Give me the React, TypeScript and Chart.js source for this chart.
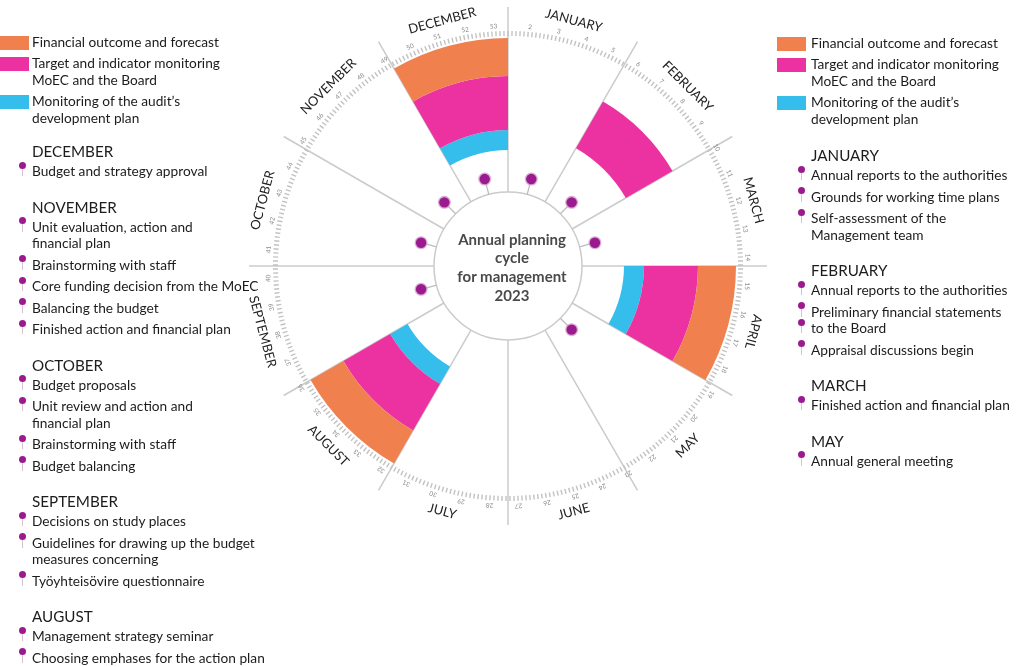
import React, { useEffect, useRef } from 'react';
import { Chart, registerables } from 'chart.js';

Chart.register(...registerables);

// ---------- data ----------
const months = ['JANUARY', 'FEBRUARY', 'MARCH', 'APRIL', 'MAY', 'JUNE', 'JULY', 'AUGUST', 'SEPTEMBER', 'OCTOBER', 'NOVEMBER', 'DECEMBER'];
const monthShare = [1, 1, 1, 1, 1, 1, 1, 1, 1, 1, 1, 1];
const seriesNames = ['Financial outcome and forecast', 'Target and indicator monitoring MoEC and the Board', 'Monitoring of the audit’s development plan'];
const financialOutcome = [0, 0, 0, 1, 0, 0, 0, 1, 0, 0, 0, 1];
const targetMonitoring = [0, 1, 0, 1, 0, 0, 0, 1, 0, 0, 0, 1];
const auditMonitoring = [0, 0, 0, 1, 0, 0, 0, 1, 0, 0, 0, 1];
const milestoneMonths = [1, 1, 1, 0, 1, 0, 0, 0, 1, 1, 1, 1];
const weekNumbers = [2, 3, 4, 5, 6, 7, 8, 9, 10, 11, 12, 13, 14, 15, 16, 17, 18, 19, 20, 21, 22, 23, 24, 25, 26, 27, 28, 29, 30, 31, 32, 33, 34, 35, 36, 37, 38, 39, 40, 41, 42, 43, 44, 45, 46, 47, 48, 49, 50, 51, 52, 53];
const daysInYear = 365;
const centerTitle = ['Annual planning', 'cycle', 'for management', '2023'];

const legendLines = [
  ['Financial outcome and forecast'],
  ['Target and indicator monitoring', 'MoEC and the Board'],
  ['Monitoring of the audit’s', 'development plan'],
];

const leftEvents = [
  { month: 'DECEMBER', items: [['Budget and strategy approval']] },
  { month: 'NOVEMBER', items: [['Unit evaluation, action and', 'financial plan'], ['Brainstorming with staff'], ['Core funding decision from the MoEC'], ['Balancing the budget'], ['Finished action and financial plan']] },
  { month: 'OCTOBER', items: [['Budget proposals'], ['Unit review and action and', 'financial plan'], ['Brainstorming with staff'], ['Budget balancing']] },
  { month: 'SEPTEMBER', items: [['Decisions on study places'], ['Guidelines for drawing up the budget', 'measures concerning'], ['Työyhteisövire questionnaire']] },
  { month: 'AUGUST', items: [['Management strategy seminar'], ['Choosing emphases for the action plan']] },
];
const rightEvents = [
  { month: 'JANUARY', items: [['Annual reports to the authorities'], ['Grounds for working time plans'], ['Self-assessment of the', 'Management team']] },
  { month: 'FEBRUARY', items: [['Annual reports to the authorities'], ['Preliminary financial statements', 'to the Board'], ['Appraisal discussions begin']] },
  { month: 'MARCH', items: [['Finished action and financial plan']] },
  { month: 'MAY', items: [['Annual general meeting']] },
];
const pinnedContinuations = ['to the Board'];

// ---------- styles ----------
const ORANGE = '#F0814F';
const PINK = '#EC31A0';
const BLUE = '#35BEEB';
const PURPLE = '#9B1B8E';
const LINE = '#cbcbcb';
const seriesColors = [ORANGE, PINK, BLUE];
const FONT = 'Lato, "Open Sans", sans-serif';

const R_INNER_CIRCLE = 74;
const R_OUTER = 228;
const R_CUT = 116;
const WEEK_STEP = 6.888;
const WEEK_START = 5.3;

const rad = (deg: number) => ((deg - 90) * Math.PI) / 180;
const pt = (cx: number, cy: number, r: number, deg: number) => [cx + r * Math.cos(rad(deg)), cy + r * Math.sin(rad(deg))];

const totalShare = monthShare.reduce((a, b) => a + b, 0);
const monthStart = (i: number) => (monthShare.slice(0, i).reduce((a, b) => a + b, 0) / totalShare) * 360;
const monthMid = (i: number) => monthStart(i) + (monthShare[i] / totalShare) * 180;

const ringPlugin = {
  id: 'ringDecor',
  beforeDatasetsDraw(chart: any) {
    const { ctx, chartArea } = chart;
    const cx = (chartArea.left + chartArea.right) / 2;
    const cy = (chartArea.top + chartArea.bottom) / 2;
    ctx.save();
    ctx.strokeStyle = LINE;
    ctx.lineWidth = 1.5;
    months.forEach((_, i) => {
      const th = monthStart(i);
      const [x1, y1] = pt(cx, cy, R_INNER_CIRCLE, th);
      const [x2, y2] = pt(cx, cy, 259, th);
      ctx.beginPath();
      ctx.moveTo(x1, y1);
      ctx.lineTo(x2, y2);
      ctx.stroke();
    });
    ctx.restore();
  },
  afterDatasetsDraw(chart: any) {
    const { ctx, chartArea } = chart;
    const cx = (chartArea.left + chartArea.right) / 2;
    const cy = (chartArea.top + chartArea.bottom) / 2;
    ctx.save();
    // inner circle
    ctx.beginPath();
    ctx.arc(cx, cy, R_INNER_CIRCLE, 0, Math.PI * 2);
    ctx.fillStyle = '#ffffff';
    ctx.fill();
    ctx.strokeStyle = LINE;
    ctx.lineWidth = 1.5;
    ctx.stroke();

    // pins
    milestoneMonths.forEach((has, i) => {
      if (!has) return;
      const th = monthMid(i);
      const [sx1, sy1] = pt(cx, cy, R_INNER_CIRCLE, th);
      const [sx2, sy2] = pt(cx, cy, 86, th);
      ctx.strokeStyle = '#bdbdbd';
      ctx.lineWidth = 1.3;
      ctx.beginPath();
      ctx.moveTo(sx1, sy1);
      ctx.lineTo(sx2, sy2);
      ctx.stroke();
      const [px, py] = pt(cx, cy, 90, th);
      ctx.beginPath();
      ctx.arc(px, py, 6.5, 0, Math.PI * 2);
      ctx.fillStyle = 'rgba(200,140,195,0.7)';
      ctx.fill();
      ctx.beginPath();
      ctx.arc(px, py, 5.2, 0, Math.PI * 2);
      ctx.fillStyle = PURPLE;
      ctx.fill();
    });

    // daily ticks
    ctx.strokeStyle = '#c2c2c2';
    ctx.lineWidth = 1.4;
    for (let d = 0; d < daysInYear; d++) {
      const th = (d * 360) / daysInYear;
      const [x1, y1] = pt(cx, cy, 230, th);
      const [x2, y2] = pt(cx, cy, 235, th);
      ctx.beginPath();
      ctx.moveTo(x1, y1);
      ctx.lineTo(x2, y2);
      ctx.stroke();
    }

    // week labels
    ctx.fillStyle = '#8a8a8a';
    ctx.font = `6.5px ${FONT}`;
    ctx.textAlign = 'center';
    ctx.textBaseline = 'middle';
    weekNumbers.forEach((w) => {
      const th = WEEK_START + (w - 2) * WEEK_STEP;
      const [x, y] = pt(cx, cy, 240, th);
      ctx.save();
      ctx.translate(x, y);
      ctx.rotate(rad(th) + Math.PI / 2);
      ctx.fillText(String(w), 0, 0);
      ctx.restore();
    });

    // month labels
    ctx.fillStyle = '#222222';
    ctx.font = `13px ${FONT}`;
    months.forEach((m, i) => {
      const th = monthMid(i);
      const flip = th > 120 && th < 270;
      const [x, y] = pt(cx, cy, 254, th);
      ctx.save();
      ctx.translate(x, y);
      ctx.rotate(flip ? rad(th) - Math.PI / 2 : rad(th) + Math.PI / 2);
      ctx.fillText(m, 0, 0);
      ctx.restore();
    });
    ctx.restore();
  },
};

type Placed = { kind: 'text' | 'header' | 'swatch' | 'pin'; x: number; y: number; text?: string; color?: string };

function layoutSide(textX: number, swatchX: number, legendY: number, legendToHeader: number, events: typeof leftEvents): Placed[] {
  const out: Placed[] = [];
  let y = legendY;
  legendLines.forEach((lines, si) => {
    if (si > 0) y += 21;
    out.push({ kind: 'swatch', x: swatchX, y, color: seriesColors[si] });
    lines.forEach((ln, li) => {
      if (li > 0) y += 17;
      out.push({ kind: 'text', x: textX, y, text: ln });
    });
  });
  y += legendToHeader;
  events.forEach((ev, ei) => {
    if (ei > 0) y += 35.5;
    out.push({ kind: 'header', x: textX, y, text: ev.month });
    y += 20;
    ev.items.forEach((lines, ii) => {
      if (ii > 0) y += 21.5;
      lines.forEach((ln, li) => {
        if (li > 0) y += 16.5;
        if (li === 0 || pinnedContinuations.includes(ln)) out.push({ kind: 'pin', x: textX - 9.5, y });
        out.push({ kind: 'text', x: textX, y, text: ln });
      });
    });
  });
  return out;
}

function renderPlaced(items: Placed[], keyPrefix: string) {
  return items.map((it, k) => {
    const key = `${keyPrefix}-${k}`;
    if (it.kind === 'swatch') {
      return <div key={key} style={{ position: 'absolute', left: it.x, top: it.y - 6, width: 29, height: 14, background: it.color }} />;
    }
    if (it.kind === 'pin') {
      return (
        <React.Fragment key={key}>
          <div style={{ position: 'absolute', left: it.x - 0.75, top: it.y - 6, width: 1.5, height: 11, background: '#d6c4d4' }} />
          <div style={{ position: 'absolute', left: it.x - 3.5, top: it.y - 9.5, width: 7, height: 7, borderRadius: '50%', background: PURPLE }} />
        </React.Fragment>
      );
    }
    const isHeader = it.kind === 'header';
    return (
      <div
        key={key}
        style={{
          position: 'absolute',
          left: it.x,
          top: it.y - 10,
          height: 20,
          lineHeight: '20px',
          whiteSpace: 'nowrap',
          fontFamily: FONT,
          fontSize: isHeader ? 15.2 : 13.7,
          color: '#1c1c1c',
        }}
      >
        {it.text}
      </div>
    );
  });
}

export default function App() {
  const canvasRef = useRef<HTMLCanvasElement | null>(null);

  useEffect(() => {
    const canvas = canvasRef.current;
    if (!canvas) return;
    const mk = (flags: number[], color: string) => flags.map((f) => (f ? color : 'rgba(0,0,0,0)'));
    const chart = new Chart(canvas, {
      type: 'doughnut',
      data: {
        labels: months,
        datasets: [
          { label: seriesNames[0], data: monthShare, backgroundColor: mk(financialOutcome, ORANGE), borderWidth: 0, weight: R_OUTER - 190 } as any,
          { label: seriesNames[1], data: monthShare, backgroundColor: mk(targetMonitoring, PINK), borderWidth: 0, weight: 190 - 136 } as any,
          { label: seriesNames[2], data: monthShare, backgroundColor: mk(auditMonitoring, BLUE), borderWidth: 0, weight: 136 - R_CUT } as any,
        ],
      },
      options: {
        responsive: false,
        animation: false,
        events: [],
        radius: R_OUTER,
        cutout: `${(R_CUT / R_OUTER) * 100}%`,
        layout: { padding: { left: 268, right: 276, top: 26, bottom: 161 } },
        plugins: { legend: { display: false }, tooltip: { enabled: false } },
      } as any,
      plugins: [ringPlugin],
    });
    return () => chart.destroy();
  }, []);

  const left = layoutSide(32, 0, 42, 33, leftEvents);
  const right = layoutSide(811, 777, 43, 36, rightEvents);

  return (
    <div style={{ position: 'absolute', left: 0, top: 0, width: 1024, height: 667, overflow: 'hidden', background: '#ffffff' }}>
      <canvas ref={canvasRef} width={1024} height={667} style={{ position: 'absolute', left: 0, top: 0, width: 1024, height: 667, display: 'block' }} />
      {renderPlaced(left, 'l')}
      {renderPlaced(right, 'r')}
      <div
        style={{
          position: 'absolute',
          left: 432,
          width: 160,
          top: 267 - 2 * 18.7,
          textAlign: 'center',
          fontFamily: FONT,
          fontWeight: 700,
          fontSize: 15,
          lineHeight: '18.7px',
          color: '#4a4a4a',
        }}
      >
        {centerTitle.map((t, i) => (
          <div key={i}>{t}</div>
        ))}
      </div>
    </div>
  );
}
